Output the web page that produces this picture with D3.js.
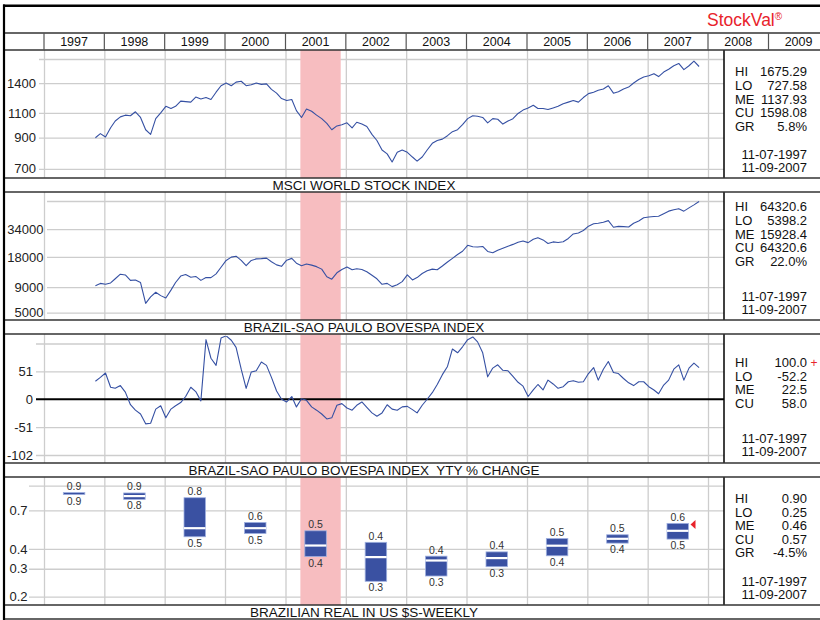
<!DOCTYPE html>
<html>
<head>
<meta charset="utf-8">
<script src="https://cdn.jsdelivr.net/npm/d3@7"></script>
<style>
body { margin: 0; background: #fff; }
text { font-family: "Liberation Sans", Arial, sans-serif; }
</style>
</head>
<body>
<div id="vizcont"></div>
<script>
// ---- data (monthly samples, 11-07-1997 .. 11-09-2007) ----
var startDate = new Date(1997, 10, 8);

var msciValues = [
  900,930,905,975,1030,1065,1080,1075,1110,1060,
  960,925,1050,1100,1160,1140,1160,1210,1205,1200,
  1250,1230,1245,1225,1300,1370,1400,1370,1410,1420,
  1370,1380,1400,1385,1390,1330,1290,1235,1215,1225,
  1120,1060,1135,1115,1080,1050,1010,960,990,1000,
  1015,975,1020,1005,985,925,880,815,790,740,
  800,815,800,770,745,770,815,860,880,890,
  915,945,960,1000,1050,1075,1070,1060,1015,1050,
  1045,1005,1030,1050,1095,1125,1145,1170,1140,1140,
  1130,1145,1160,1185,1200,1215,1200,1245,1285,1300,
  1320,1335,1370,1290,1305,1335,1355,1400,1440,1470,
  1485,1510,1475,1530,1565,1610,1640,1560,1610,1670,
  1600];

var bovespaValues = [
  9300,9800,9600,9900,10900,12100,11900,10500,10600,10000,
  6200,7200,8000,7400,7000,8400,10000,11600,12000,11300,
  11500,10500,11200,11200,12200,14200,16600,17900,18300,16600,
  14700,16600,17200,17300,17500,16100,15000,14500,16700,17400,
  15600,14700,15300,14900,14400,13600,11400,10800,12500,13500,
  14300,13400,13700,13500,12800,11800,10900,9600,9800,9100,
  9500,10200,11900,10600,11200,12300,13100,13600,13400,14600,
  16000,17400,19000,20500,23500,22700,22600,22900,20400,19800,
  21000,22000,23000,24000,25200,25900,25000,27000,28000,26600,
  24500,25400,25100,25500,27500,30500,31200,33000,36500,38500,
  39000,39900,41400,35600,36300,36100,35800,39000,41000,44200,
  45000,45600,45800,48600,51500,53200,54500,51500,55500,59500,
  64300];

var ytyValues = [
  33,40,48,22,20,25,13,-10,-20,-27,
  -45,-44,-18,-12,-34,-18,-12,-6,5,22,
  14,-3,109,75,62,112,116,108,95,55,
  20,50,52,68,62,40,15,0,-5,5,
  -14,1,-2,-14,-20,-27,-36,-34,-11,-8,
  -16,-20,-11,-5,-15,-25,-31,-25,-10,-18,
  -20,-14,-13,-19,-25,-11,0,12,27,45,
  60,92,85,96,109,114,105,85,41,57,
  63,53,52,42,31,24,5,17,27,17,
  35,28,20,23,32,34,31,32,47,58,
  35,55,69,49,47,38,30,25,32,32,
  23,17,10,26,35,55,63,35,57,66,
  58];

// yearly range bars of the Brazilian real (US$)
var fxYears = [1997,1998,1999,2000,2001,2002,2003,2004,2005,2006,2007];
var fxHi  = [0.905,0.90,0.84,0.587,0.52,0.44,0.36,0.383,0.465,0.491,0.579];
var fxLo  = [0.895,0.82,0.477,0.50,0.358,0.25,0.27,0.309,0.362,0.435,0.461];
var fxAvg = [null,0.86,0.54,0.54,0.42,0.355,0.338,0.35,0.419,0.463,0.52];
var fxCurrent = 0.57;

var headerYears = [1997,1998,1999,2000,2001,2002,2003,2004,2005,2006,2007,2008,2009];

var statKeys1 = ["HI","LO","ME","CU","GR"];
var statVals1 = ["1675.29","727.58","1137.93","1598.08","5.8%"];
var statVals2 = ["64320.6","5398.2","15928.4","64320.6","22.0%"];
var statKeys3 = ["HI","LO","ME","CU"];
var statVals3 = ["100.0","-52.2","22.5","58.0"];
var statVals4 = ["0.90","0.25","0.46","0.57","-4.5%"];
var dateRange = ["11-07-1997","11-09-2007"];

var recession = [new Date(2001,3,1), new Date(2001,11,1)];

// ---- layout ----
var W = 820, H = 620;
var plotR = 724, statX = 735, statR = 807;
var blue = "#3550a3";

var svg = d3.select("#vizcont").append("svg")
    .attr("width", W).attr("height", H);

var x = d3.scaleTime()
    .domain([new Date(1997,0,1), new Date(2008,0,1)])
    .range([44, 708]);

function series(vals) {
  return vals.map(function(v, i) {
    return { date: d3.timeMonth.offset(startDate, i), value: v };
  });
}

var panels = [
  { top: 50, bottom: 178, labelBottom: 192, gridL: 39, pad: 3,
    y: d3.scaleLog().domain([650, 1700]).range([178, 59]),
    grid: [700, 900, 1100, 1400, 1700], labels: [700, 900, 1100, 1400],
    data: series(msciValues), title: "MSCI WORLD STOCK INDEX",
    keys: statKeys1, vals: statVals1, statTop: 21.7 },
  { top: 192, bottom: 320, labelBottom: 334, gridL: 47, pad: 3.5,
    y: d3.scaleLog().domain([5000, 65000]).range([312.7, 201]),
    grid: [5000, 9000, 18000, 34000, 65000], labels: [5000, 9000, 18000, 34000],
    data: series(bovespaValues), title: "BRAZIL-SAO PAULO BOVESPA INDEX",
    keys: statKeys1, vals: statVals2, statTop: 14.7 },
  { top: 334, bottom: 463, labelBottom: 477, gridL: 36, pad: 3,
    y: d3.scaleLinear().domain([-102, 102]).range([455, 343.5]),
    grid: [-102, -51, 51, 102], labels: [-102, -51, 0, 51],
    data: series(ytyValues), title: "BRAZIL-SAO PAULO BOVESPA INDEX  YTY % CHANGE",
    keys: statKeys3, vals: statVals3, statTop: 28.3, zero: true },
  { top: 477, bottom: 605, labelBottom: 619, gridL: 29, pad: 1.5,
    y: d3.scaleLog().domain([0.2, 1.0]).range([596.7, 485.7]),
    grid: [0.2, 0.3, 0.4, 0.7, 1.0], labels: [0.2, 0.3, 0.4, 0.7],
    data: null, title: "BRAZILIAN REAL IN US $S-WEEKLY",
    keys: statKeys1, vals: statVals4, statTop: 21.3 }
];

var yearStarts = d3.range(1997, 2009).map(function(y) { return new Date(y, 0, 1); });

panels.forEach(function(p, pi) {
  var g = svg.append("g");

  // vertical year grid
  g.append("g")
    .attr("transform", "translate(0," + p.bottom + ")")
    .call(d3.axisBottom(x).tickValues(yearStarts).tickSize(-(p.bottom - p.top)).tickFormat(""))
    .call(function(a) {
      a.select(".domain").remove();
      a.selectAll("line").attr("stroke", "#cdcdcd").attr("stroke-width", 1.3);
    });

  // horizontal grid + tick labels
  var grid = p.grid.slice();
  p.labels.forEach(function(l) { if (grid.indexOf(l) < 0) grid.push(l); });
  g.append("g")
    .attr("transform", "translate(" + plotR + ",0)")
    .call(d3.axisLeft(p.y).tickValues(grid).tickSize(plotR - p.gridL).tickPadding(p.pad)
      .tickFormat(function(d) { return p.labels.indexOf(d) >= 0 ? String(d) : ""; }))
    .call(function(a) {
      a.select(".domain").remove();
      a.selectAll("line").attr("stroke", "#cdcdcd").attr("stroke-width", 1.3)
        .attr("stroke-opacity", function(d) { return d === 0 ? 0 : 1; });
      a.selectAll("text").style("font-size", "13px").attr("fill", "#222");
    });

  // recession band
  g.append("rect")
    .attr("x", x(recession[0]))
    .attr("width", x(recession[1]) - x(recession[0]))
    .attr("y", p.top).attr("height", p.bottom - p.top)
    .attr("fill", "#f7bdc0");

  if (p.zero) {
    g.append("line")
      .attr("x1", p.gridL).attr("x2", plotR)
      .attr("y1", p.y(0)).attr("y2", p.y(0))
      .attr("stroke", "#000").attr("stroke-width", 2.2);
  }

  // clip for the line
  var clipId = "clip" + pi;
  svg.append("clipPath").attr("id", clipId)
    .append("rect").attr("x", 44).attr("y", p.top + 2)
    .attr("width", plotR - 44).attr("height", p.bottom - p.top - 2);

  if (p.data) {
    var line = d3.line()
      .x(function(d) { return x(d.date); })
      .y(function(d) { return p.y(d.value); });
    g.append("path")
      .datum(p.data)
      .attr("clip-path", "url(#" + clipId + ")")
      .attr("fill", "none")
      .attr("stroke", blue)
      .attr("stroke-width", 1.1)
      .attr("stroke-linejoin", "round")
      .attr("d", line);
  }

  // divider to the stats box
  g.append("line")
    .attr("x1", plotR).attr("x2", plotR)
    .attr("y1", p.top).attr("y2", p.bottom)
    .attr("stroke", "#000").attr("stroke-width", 1.5);

  // stats
  var st = g.append("g").style("font-size", "13px").attr("fill", "#111");
  p.keys.forEach(function(k, i) {
    var yy = p.top + p.statTop + i * 13.6 + 4.7;
    st.append("text").attr("x", statX).attr("y", yy).text(k);
    st.append("text").attr("x", statR).attr("y", yy).attr("text-anchor", "end").text(p.vals[i]);
  });
  dateRange.forEach(function(dt, i) {
    st.append("text").attr("x", statR).attr("y", p.top + 104.3 + i * 13 + 4.7)
      .attr("text-anchor", "end").text(dt);
  });

  // title row
  g.append("text")
    .attr("x", 364).attr("y", p.labelBottom - 1.6)
    .attr("text-anchor", "middle")
    .style("font-size", "13.5px").style("white-space", "pre").attr("fill", "#111")
    .text(p.title);
});

// red "+" (YTY high is clipped)
svg.append("text")
  .attr("x", 814).attr("y", panels[2].top + 28.3 + 4.5)
  .attr("text-anchor", "middle")
  .style("font-size", "12px").attr("fill", "#e8232b")
  .text("+");

// ---- yearly range bars for the real ----
var p4 = panels[3];
var bw = 21.5;
var fx = fxYears.map(function(yr, i) {
  return { year: yr, hi: fxHi[i], lo: fxLo[i], avg: fxAvg[i] };
});
var fmt = d3.format(".1f");
function midYear(yr) { return x(new Date(yr, 6, 2)); }

var bars = svg.append("g");
bars.selectAll(".fxbar")
  .data(fx).enter().append("rect")
  .attr("class", "fxbar")
  .attr("x", function(d) { return midYear(d.year) - bw / 2; })
  .attr("y", function(d) { return p4.y(d.hi); })
  .attr("width", bw)
  .attr("height", function(d) { return Math.max(2, p4.y(d.lo) - p4.y(d.hi)); })
  .attr("fill", "#3a51a2")
  .attr("stroke", "#9fb0e0")
  .attr("stroke-width", 0.8);

bars.selectAll(".fxavg")
  .data(fx.filter(function(d) { return d.avg !== null; })).enter().append("line")
  .attr("class", "fxavg")
  .attr("x1", function(d) { return midYear(d.year) - bw / 2; })
  .attr("x2", function(d) { return midYear(d.year) + bw / 2; })
  .attr("y1", function(d) { return p4.y(d.avg); })
  .attr("y2", function(d) { return p4.y(d.avg); })
  .attr("stroke", "#fff").attr("stroke-width", 2.2);

bars.selectAll(".fxhi")
  .data(fx).enter().append("text")
  .attr("x", function(d) { return midYear(d.year); })
  .attr("y", function(d) { return p4.y(d.hi) - 2.5; })
  .attr("text-anchor", "middle")
  .style("font-size", "10.5px").attr("fill", "#333")
  .text(function(d) { return fmt(d.hi); });

bars.selectAll(".fxlo")
  .data(fx).enter().append("text")
  .attr("x", function(d) { return midYear(d.year); })
  .attr("y", function(d) { return Math.max(p4.y(d.lo), p4.y(d.hi) + 2) + 10; })
  .attr("text-anchor", "middle")
  .style("font-size", "10.5px").attr("fill", "#333")
  .text(function(d) { return fmt(d.lo); });

// current value marker
var cuX = midYear(2007) + bw / 2 + 2, cuY = p4.y(fxCurrent);
bars.append("path")
  .attr("d", "M" + cuX + "," + cuY + "L" + (cuX + 5) + "," + (cuY - 4.5) + "L" + (cuX + 5) + "," + (cuY + 4.5) + "Z")
  .attr("fill", "#e8232b");

// ---- frame and header ----
var frame = svg.append("g");
[33, 50, 178, 192, 320, 334, 463, 477, 605, 619].forEach(function(yy) {
  frame.append("line")
    .attr("x1", 4).attr("x2", W).attr("y1", yy).attr("y2", yy)
    .attr("stroke", "#333").attr("stroke-width", 1.4);
});
frame.append("line")
  .attr("x1", 3).attr("x2", W).attr("y1", 5.8).attr("y2", 5.8)
  .attr("stroke", "#000").attr("stroke-width", 2.6);
frame.append("line")
  .attr("x1", 4).attr("x2", 4).attr("y1", 4.5).attr("y2", H)
  .attr("stroke", "#000").attr("stroke-width", 2.2);

frame.selectAll(".ydiv")
  .data(headerYears).enter().append("line")
  .attr("class", "ydiv")
  .attr("x1", function(d) { return x(new Date(d, 0, 1)); })
  .attr("x2", function(d) { return x(new Date(d, 0, 1)); })
  .attr("y1", 33).attr("y2", 50)
  .attr("stroke", "#555").attr("stroke-width", 1.2);

frame.selectAll(".ylab")
  .data(headerYears).enter().append("text")
  .attr("class", "ylab")
  .attr("x", function(d) { return midYear(d); })
  .attr("y", 46)
  .attr("text-anchor", "middle")
  .style("font-size", "12.5px").attr("fill", "#111")
  .text(function(d) { return d; });

var brand = frame.append("text")
  .attr("x", 707).attr("y", 26)
  .style("font-size", "17.5px").attr("fill", "#e8232b");
brand.append("tspan").text("StockVal");
brand.append("tspan").attr("dy", -6).style("font-size", "10px").text("®");
</script>
</body>
</html>
